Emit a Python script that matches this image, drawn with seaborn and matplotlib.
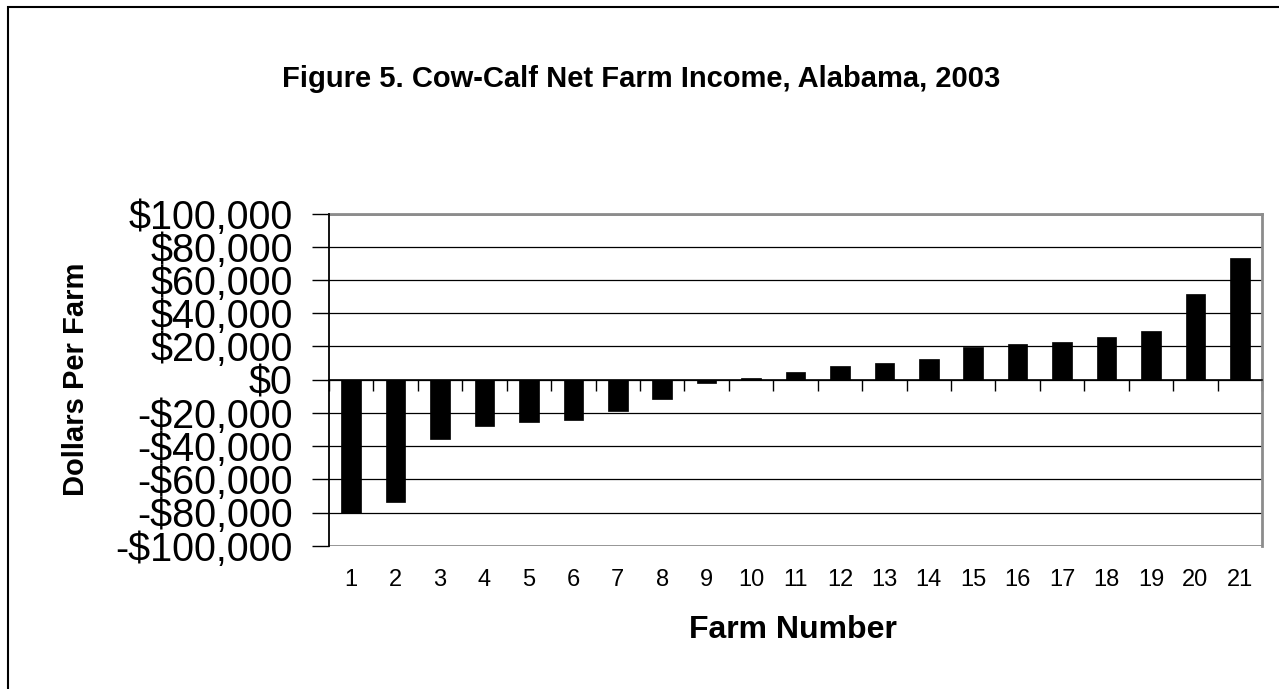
import matplotlib
matplotlib.use("Agg")
import matplotlib.pyplot as plt
import seaborn as sns
import pandas as pd
from matplotlib.ticker import FuncFormatter
from matplotlib.patches import Rectangle

# ---- data ----
farm_numbers = ["1", "2", "3", "4", "5", "6", "7", "8", "9", "10", "11",
                "12", "13", "14", "15", "16", "17", "18", "19", "20", "21"]
net_income = [-80000, -73500, -35500, -27700, -25300, -24300, -18700, -11800,
              -1800, 1200, 4800, 8200, 10200, 12400, 19500, 21500, 22700,
              25900, 29300, 51800, 73200]
y_ticks = [-100000, -80000, -60000, -40000, -20000, 0,
           20000, 40000, 60000, 80000, 100000]
title_text = "Figure 5. Cow-Calf Net Farm Income, Alabama, 2003"
x_label = "Farm Number"
y_label = "Dollars Per Farm"

sns.set_theme(style="white")
plt.rcParams["font.family"] = ["Liberation Sans", "DejaVu Sans"]

W, H = 1279, 689
fig = plt.figure(figsize=(W / 100, H / 100), dpi=100)
fig.patch.set_facecolor("white")

ax_l, ax_r, ax_t, ax_b = 329, 1262, 213.7, 545.7
ax = fig.add_axes([ax_l / W, 1 - ax_b / H, (ax_r - ax_l) / W, (ax_b - ax_t) / H])

df = pd.DataFrame({"Farm": farm_numbers, "Income": net_income})
sns.barplot(data=df, x="Farm", y="Income", color="black", saturation=1,
            width=0.44, edgecolor="black", linewidth=0.5, ax=ax, zorder=3)

ax.set_ylim(y_ticks[0], y_ticks[-1])
ax.set_xlim(-0.5, len(farm_numbers) - 0.5)
ax.set_yticks(y_ticks)
ax.yaxis.set_major_formatter(FuncFormatter(
    lambda v, _: f"-${abs(int(v)):,}" if v < 0 else f"${int(v):,}"))
ax.tick_params(axis="y", direction="out", length=12, width=1, color="black",
               labelsize=28.5, pad=14, left=True, labelcolor="black")

ax.yaxis.grid(True, color="black", linewidth=0.9)
ax.xaxis.grid(False)
ax.set_axisbelow(True)
gls = ax.get_ygridlines()
for g in (gls[0], gls[-1]):
    g.set_color("#8c8c8c")
    g.set_linewidth(2)

for s in ("top", "right"):
    ax.spines[s].set_visible(True)
    ax.spines[s].set_color("#8c8c8c")
    ax.spines[s].set_linewidth(2)
ax.spines["left"].set_color("black")
ax.spines["left"].set_linewidth(1.3)
ax.spines["left"].set_zorder(4)
ax.spines["bottom"].set_position(("data", 0))
ax.spines["bottom"].set_color("black")
ax.spines["bottom"].set_linewidth(1.2)
ax.spines["bottom"].set_zorder(4)

# boundary ticks on the zero line
ax.set_xticks([i - 0.5 for i in range(len(farm_numbers) + 1)])
ax.set_xticklabels([])
ax.tick_params(axis="x", direction="out", length=8, width=1, color="black",
               bottom=True)

# category labels below the plot area
sec = ax.secondary_xaxis("bottom")
sec.set_xticks(range(len(farm_numbers)), labels=farm_numbers)
sec.tick_params(axis="x", length=0, labelsize=17, pad=17, labelcolor="black")
sec.spines["bottom"].set_visible(False)

ax.set_ylabel(y_label, fontsize=21, fontweight="bold", color="black")
ax.yaxis.set_label_coords((90 - ax_l) / (ax_r - ax_l), 0.5)
ax.set_xlabel(x_label, fontsize=23, fontweight="bold", color="black")
ax.xaxis.set_label_coords((793 - ax_l) / (ax_r - ax_l), -(615 - ax_b) / (ax_b - ax_t))

fig.text(641 / W, 1 - 79 / H, title_text, ha="center", va="center",
         fontsize=21, fontweight="bold", color="black")

fig.add_artist(Rectangle((8 / W, -0.1), 1.2, (1 - 7 / H) + 0.1,
                         transform=fig.transFigure, fill=False,
                         edgecolor="black", linewidth=1.5))

fig.savefig("out.png", dpi=100, facecolor="white")
